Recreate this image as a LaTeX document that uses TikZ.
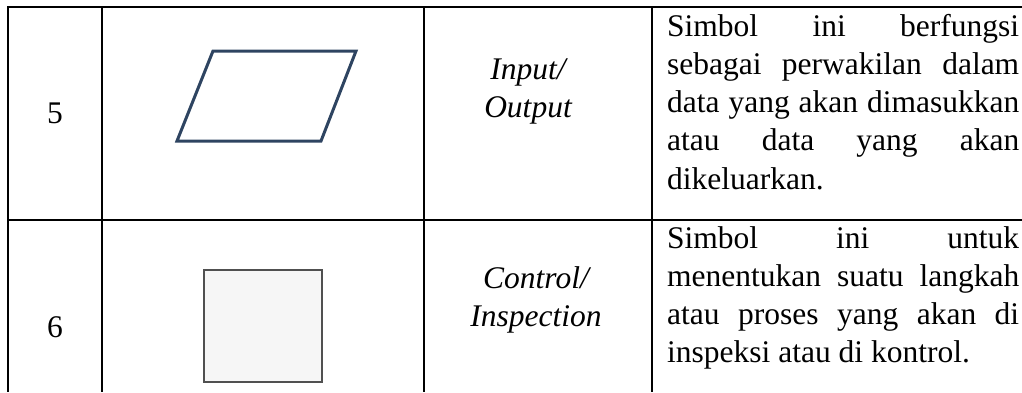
\documentclass[tikz,border=0pt]{standalone}
\usepackage{fontspec}
\setmainfont{Liberation Serif}
\definecolor{ionavy}{RGB}{46,68,97}
\definecolor{boxgray}{RGB}{80,80,80}
\definecolor{boxfill}{RGB}{246,246,246}
\tikzset{
  gridline/.style={line width=2.5pt, black},
  tcell/.style={inner sep=0pt, font=\fontsize{31.5}{38.3}\selectfont},
  tdesc/.style={tcell, text width=352pt, align=justify, anchor=base west},
  tname/.style={inner sep=0pt, text width=220pt, align=center, anchor=base, font=\fontsize{31.5}{38.3}\selectfont\itshape},
  tnum/.style={tcell, anchor=base},
}
\newcommand{\jline}[1]{\makebox[352pt][s]{#1}}
\begin{document}
\begin{tikzpicture}[x=1pt,y=-1pt]
\useasboundingbox (0,0) rectangle (1022,392);
% table grid
\draw[gridline] (1022,7) -- (8,7) -- (8,392);
\draw[gridline] (8,220) -- (1022,220);
\draw[gridline] (102,7) -- (102,392);
\draw[gridline] (424,7) -- (424,392);
\draw[gridline] (652,7) -- (652,392);
% row 5
\node[tnum] (n5) at (55,123) {5};
\draw[ionavy, line width=3pt, line join=miter] (213,51) -- (356,51) -- (321,141) -- (177,141) -- cycle;
\node[tname] (t5) at (528,79) {Input/\\Output};
\node[tdesc] (d5) at (667,36) {\spaceskip=0pt\xspaceskip=0pt\jline{Simbol ini berfungsi}\\\jline{sebagai perwakilan dalam}\\\jline{data yang akan dimasukkan}\\\jline{atau data yang akan}\\dikeluarkan.};
% row 6
\node[tnum] (n6) at (55,337) {6};
\draw[boxgray, fill=boxfill, line width=2pt] (204,270) rectangle (322,382);
\node[tname] (t6) at (536,288) {Control/\\Inspection};
\node[tdesc] (d6) at (667,248) {\spaceskip=0pt\xspaceskip=0pt\jline{Simbol ini untuk}\\\jline{menentukan suatu langkah}\\\jline{atau proses yang akan di}\\inspeksi atau di kontrol.};
\end{tikzpicture}
\end{document}
